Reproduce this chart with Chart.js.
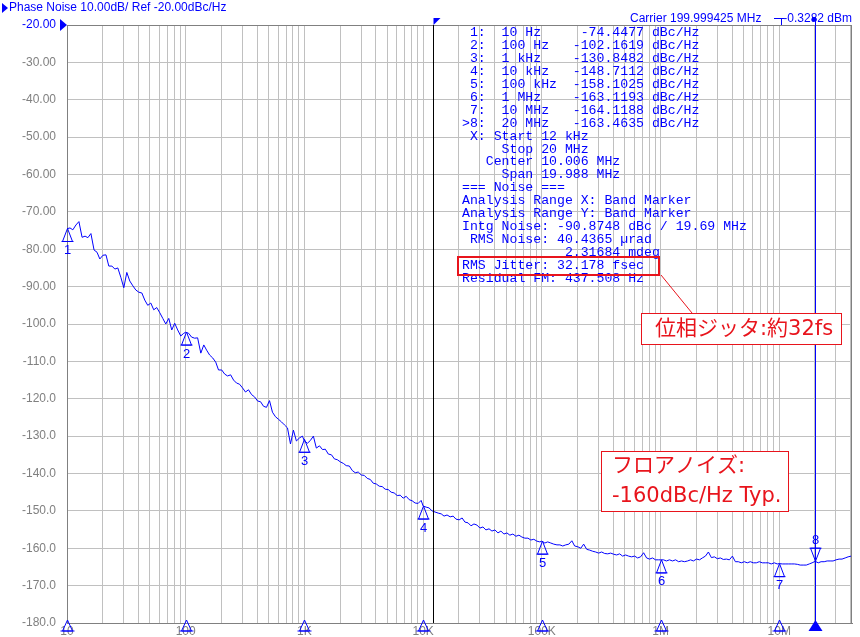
<!DOCTYPE html>
<html>
<head>
<meta charset="utf-8">
<title>Phase Noise</title>
<script src="https://cdn.jsdelivr.net/npm/chart.js@4.4.1/dist/chart.umd.min.js"></script>
<style>
  html, body { margin: 0; padding: 0; background: #fff; }
  #phaseNoiseChart { display: block; }
</style>
</head>
<body>
<canvas id="phaseNoiseChart" width="860" height="637"></canvas>
<script>
// offset frequency of each trace point (Hz)
const freqHz = [
  10, 10.6, 11.2, 11.9, 12.6, 13.4, 14.2, 15, 15.9, 16.9, 17.9, 18.9, 20.1, 21.3, 22.5, 23.9, 25.3, 26.8, 28.4, 30.1,
  31.9, 33.8, 35.9, 38, 40.3, 42.7, 45.2, 47.9, 50.8, 53.8, 57, 60.5, 64.1, 67.9, 72, 76.3, 80.8, 85.6, 90.8, 96.2,
  100, 106, 112, 119, 126, 134, 142, 150, 159, 169, 179, 189, 201, 213, 225, 239, 253, 268, 284, 301,
  319, 338, 359, 380, 403, 427, 452, 479, 508, 538, 570, 605, 641, 679, 720, 763, 808, 856, 908, 962,
  1e3, 1.06e3, 1.12e3, 1.19e3, 1.26e3, 1.34e3, 1.42e3, 1.5e3, 1.59e3, 1.69e3, 1.79e3, 1.89e3, 2.01e3, 2.13e3, 2.25e3, 2.39e3, 2.53e3, 2.68e3, 2.84e3, 3.01e3,
  3.19e3, 3.38e3, 3.59e3, 3.8e3, 4.03e3, 4.27e3, 4.52e3, 4.79e3, 5.08e3, 5.38e3, 5.7e3, 6.05e3, 6.41e3, 6.79e3, 7.2e3, 7.63e3, 8.08e3, 8.56e3, 9.08e3, 9.62e3,
  1e4, 1.06e4, 1.12e4, 1.19e4, 1.26e4, 1.34e4, 1.42e4, 1.5e4, 1.59e4, 1.69e4, 1.79e4, 1.89e4, 2.01e4, 2.13e4, 2.25e4, 2.39e4, 2.53e4, 2.68e4, 2.84e4, 3.01e4,
  3.19e4, 3.38e4, 3.59e4, 3.8e4, 4.03e4, 4.27e4, 4.52e4, 4.79e4, 5.08e4, 5.38e4, 5.7e4, 6.05e4, 6.41e4, 6.79e4, 7.2e4, 7.63e4, 8.08e4, 8.56e4, 9.08e4, 9.62e4,
  1e5, 1.06e5, 1.12e5, 1.19e5, 1.26e5, 1.34e5, 1.42e5, 1.5e5, 1.59e5, 1.69e5, 1.79e5, 1.89e5, 2.01e5, 2.13e5, 2.25e5, 2.39e5, 2.53e5, 2.68e5, 2.84e5, 3.01e5,
  3.19e5, 3.38e5, 3.59e5, 3.8e5, 4.03e5, 4.27e5, 4.52e5, 4.79e5, 5.08e5, 5.38e5, 5.7e5, 6.05e5, 6.41e5, 6.79e5, 7.2e5, 7.63e5, 8.08e5, 8.56e5, 9.08e5, 9.62e5,
  1e6, 1.06e6, 1.12e6, 1.19e6, 1.26e6, 1.34e6, 1.42e6, 1.5e6, 1.59e6, 1.69e6, 1.79e6, 1.89e6, 2.01e6, 2.13e6, 2.25e6, 2.39e6, 2.53e6, 2.68e6, 2.84e6, 3.01e6,
  3.19e6, 3.38e6, 3.59e6, 3.8e6, 4.03e6, 4.27e6, 4.52e6, 4.79e6, 5.08e6, 5.38e6, 5.7e6, 6.05e6, 6.41e6, 6.79e6, 7.2e6, 7.63e6, 8.08e6, 8.56e6, 9.08e6, 9.62e6,
  1e7, 1.06e7, 1.12e7, 1.19e7, 1.26e7, 1.34e7, 1.42e7, 1.5e7, 1.59e7, 1.69e7, 1.79e7, 1.89e7, 2.01e7, 2.13e7, 2.25e7, 2.39e7, 2.53e7, 2.68e7, 2.84e7, 3.01e7,
  3.19e7, 3.38e7, 3.59e7, 3.8e7, 4.03e7
];

// phase noise (dBc/Hz)
const noiseDb = [
  -74.5, -74.3, -74.8, -73.5, -72.6, -76.8, -76.5, -76.9, -75.8, -80.2, -80.8, -82.6, -81.6, -81.5, -84.5, -84.5, -85.3, -85.0, -87.5, -90.3,
  -86.2, -88.5, -89.8, -90.9, -91.5, -91.7, -93.6, -95.0, -94.4, -96.2, -95.6, -97.0, -98.5, -100.0, -98.5, -101.6, -99.8, -101.6, -103.2, -102.5,
  -102.2, -102.5, -103.5, -103.8, -103.7, -107.8, -105.6, -107.0, -108.3, -109.1, -110.2, -112.3, -112.3, -113.4, -113.9, -113.6, -115.0, -115.8, -116.1, -117.1,
  -118.2, -117.6, -118.9, -119.5, -120.6, -120.8, -122.0, -122.3, -120.5, -123.6, -124.8, -125.5, -126.2, -127.0, -127.8, -132.1, -128.4, -131.3, -130.5, -130.0,
  -131.3, -131.9, -131.2, -130.0, -133.2, -132.6, -133.6, -133.5, -134.8, -135.0, -136.1, -136.3, -136.9, -137.3, -137.9, -138.0, -139.2, -139.8, -139.6, -140.4,
  -140.5, -141.3, -141.6, -142.6, -142.8, -143.4, -143.5, -144.2, -144.3, -145.0, -145.2, -145.9, -145.8, -146.6, -146.1, -147.0, -147.3, -147.9, -148.0, -147.2,
  -148.7, -149.0, -149.2, -150.0, -150.3, -150.6, -150.8, -151.4, -151.1, -151.6, -151.4, -152.2, -152.4, -151.9, -153.0, -153.2, -154.0, -153.5, -153.8, -154.6,
  -154.3, -155.1, -154.8, -155.4, -155.1, -155.9, -155.4, -156.2, -155.9, -156.5, -156.2, -156.8, -156.5, -157.0, -157.3, -157.3, -157.8, -157.6, -158.1, -158.3,
  -158.1, -158.6, -158.3, -158.6, -158.9, -159.1, -159.1, -159.4, -159.1, -158.9, -158.0, -159.4, -159.6, -160.0, -158.9, -160.3, -160.5, -160.8, -161.0, -161.3,
  -161.0, -161.4, -161.5, -161.3, -161.6, -161.8, -161.5, -162.1, -161.8, -162.1, -162.3, -162.1, -162.6, -162.3, -161.2, -162.6, -162.9, -162.6, -163.1, -163.1,
  -163.1, -163.1, -163.4, -163.1, -163.4, -163.1, -163.6, -163.4, -163.6, -163.4, -163.1, -163.4, -162.9, -163.1, -162.6, -162.1, -161.0, -162.5, -162.3, -162.8,
  -162.6, -163.0, -162.9, -163.1, -162.1, -163.6, -163.6, -163.9, -163.6, -163.9, -163.6, -163.9, -163.9, -163.6, -163.9, -163.9, -163.9, -164.2, -163.9, -164.2,
  -164.1, -164.2, -164.2, -164.2, -164.2, -164.2, -164.3, -164.5, -164.5, -164.5, -164.2, -163.9, -163.5, -163.9, -163.6, -163.6, -163.4, -163.4, -163.4, -163.1,
  -162.9, -162.9, -162.6, -162.3, -162.1
];

const xTickValues = [10, 100, 1e3, 1e4, 1e5, 1e6, 1e7];
const xTickLabels = ['10', '100', '1K', '10K', '100K', '1M', '10M'];

const markerFreq = [10, 100, 1e3, 1e4, 1e5, 1e6, 1e7, 2e7];
const markerDb = [-74.4477, -102.1619, -130.8482, -148.7112, -158.1025, -163.1193, -164.1188, -163.4635];
const markerText = ['10 Hz', '100 Hz', '1 kHz', '10 kHz', '100 kHz', '1 MHz', '10 MHz', '20 MHz'];

const bandStart = 12e3;
const bandStop = 20e6;

const infoLines = [
  ' X: Start 12 kHz',
  '     Stop 20 MHz',
  '   Center 10.006 MHz',
  '     Span 19.988 MHz',
  '=== Noise ===',
  'Analysis Range X: Band Marker',
  'Analysis Range Y: Band Marker',
  'Intg Noise: -90.8748 dBc / 19.69 MHz',
  ' RMS Noise: 40.4365 µrad',
  '             2.31684 mdeg',
  'RMS Jitter: 32.178 fsec',
  'Residual FM: 437.508 Hz'
];

const BLUE = '#0000ff';
const RED = '#e8141c';

function tri(c, pts, fill) {
  c.beginPath();
  c.moveTo(pts[0], pts[1]);
  c.lineTo(pts[2], pts[3]);
  c.lineTo(pts[4], pts[5]);
  c.closePath();
  if (fill) c.fill(); else c.stroke();
}

function line(c, x1, y1, x2, y2) {
  c.beginPath();
  c.moveTo(x1, y1);
  c.lineTo(x2, y2);
  c.stroke();
}

const overlay = {
  id: 'overlay',
  afterDraw(chart) {
    const c = chart.ctx;
    const a = chart.chartArea;
    const xs = chart.scales.x;
    const ys = chart.scales.y;
    c.save();

    // frame top / right
    c.strokeStyle = '#808080';
    c.lineWidth = 1;
    line(c, a.left, a.top + 0.5, a.right, a.top + 0.5);
    line(c, a.right - 0.5, a.top, a.right - 0.5, a.bottom);

    // band start / stop lines
    const bx = Math.round(xs.getPixelForValue(bandStart)) + 0.5;
    c.strokeStyle = '#000000';
    line(c, bx, a.top, bx, a.bottom);
    c.fillStyle = BLUE;
    tri(c, [bx, a.top - 7, bx + 7, a.top - 7, bx, a.top], true);

    const sx = Math.round(xs.getPixelForValue(bandStop)) + 0.5;
    c.strokeStyle = BLUE;
    line(c, sx, 18, sx, a.bottom);

    // markers on the trace
    c.font = '13px "Liberation Sans"';
    c.textAlign = 'center';
    c.textBaseline = 'middle';
    markerFreq.forEach((f, i) => {
      const px = Math.round(xs.getPixelForValue(f)) + 0.5;
      const py = ys.getPixelForValue(markerDb[i]);
      c.strokeStyle = BLUE;
      c.fillStyle = BLUE;
      if (i === markerFreq.length - 1) {
        tri(c, [px, py, px - 5, py - 13, px + 5, py - 13], false);
        line(c, px - 6, py - 13, px + 6, py - 13);
        c.fillText(String(i + 1), px, py - 21);
        tri(c, [px, a.bottom - 3, px - 7, a.bottom + 8, px + 7, a.bottom + 8], true);
      } else {
        tri(c, [px, py, px - 5, py + 13, px + 5, py + 13], false);
        line(c, px - 6, py + 13, px + 6, py + 13);
        c.fillText(String(i + 1), px, py + 22);
        tri(c, [px, a.bottom - 3, px - 5, a.bottom + 8, px + 5, a.bottom + 8], false);
        line(c, px - 7, a.bottom + 8, px + 7, a.bottom + 8);
      }
    });

    // header texts
    c.fillStyle = BLUE;
    tri(c, [2, 3, 8, 8, 2, 13], true);
    tri(c, [a.left - 7, a.top - 6, a.left, a.top, a.left - 7, a.top + 6], true);
    c.font = '12px "Liberation Sans"';
    c.textAlign = 'left';
    c.fillText('Phase Noise 10.00dB/ Ref -20.00dBc/Hz', 9, 8);
    c.fillText('Carrier 199.999425 MHz', 630, 19);
    c.textAlign = 'right';
    c.fillText('-0.3282 dBm', 852, 19);
    c.strokeStyle = BLUE;
    line(c, 774, 18.5, 784, 18.5);
    line(c, 781.5, 18.5, 781.5, 25);
    c.fillRect(812, 17, 4, 4);

    // marker table + noise analysis
    c.font = '13.2px "Liberation Mono"';
    c.textAlign = 'left';
    const rows = markerFreq.map((f, i) =>
      ((i === markerFreq.length - 1 ? '>' : ' ') + (i + 1) + ':  ' + markerText[i]).padEnd(14) +
      markerDb[i].toFixed(4).padStart(9) + ' dBc/Hz').concat(infoLines);
    rows.forEach((t, i) => c.fillText(t, 462, 33 + i * 12.9));

    // callouts
    c.strokeStyle = RED;
    c.lineWidth = 2;
    c.strokeRect(458, 257, 201, 18);
    c.lineWidth = 1;
    line(c, 661, 275, 692, 313);

    c.fillStyle = '#ffffff';
    c.fillRect(641.5, 313.5, 200, 31);
    c.strokeRect(641.5, 313.5, 200, 31);
    c.fillRect(601.5, 451.5, 187, 60);
    c.strokeRect(601.5, 451.5, 187, 60);

    c.fillStyle = RED;
    c.font = '21px "DejaVu Sans", "Noto Sans CJK JP"';
    c.fillText('位相ジッタ:約32fs', 655, 330);
    c.fillText('フロアノイズ:', 612, 467);
    c.fillText('-160dBc/Hz Typ.', 612, 497);

    c.restore();
  }
};

const ctx = document.getElementById('phaseNoiseChart');

new Chart(ctx, {
  type: 'line',
  data: {
    datasets: [{
      label: 'Phase Noise',
      data: freqHz.map((f, i) => ({ x: f, y: noiseDb[i] })),
      borderColor: BLUE,
      borderWidth: 1,
      pointRadius: 0,
      tension: 0,
      fill: false
    }]
  },
  options: {
    responsive: false,
    animation: false,
    devicePixelRatio: 1,
    layout: { padding: { top: 25, right: 8, left: 0, bottom: 0 } },
    plugins: {
      legend: { display: false },
      tooltip: { enabled: false }
    },
    scales: {
      x: {
        type: 'logarithmic',
        min: 10,
        max: 4.1e7,
        afterBuildTicks: (scale) => {
          const t = [];
          for (let p = 1; p <= 7; p++) {
            for (let m = 1; m <= 9; m++) {
              const v = m * Math.pow(10, p);
              if (v <= 4.1e7) t.push({ value: v });
            }
          }
          scale.ticks = t;
        },
        afterFit: (scale) => { scale.height = 14; },
        grid: { color: '#c0c0c0', drawTicks: false },
        border: { color: '#808080' },
        ticks: {
          autoSkip: false,
          maxRotation: 0,
          padding: 1,
          color: '#808080',
          font: { family: 'Liberation Sans', size: 12 },
          callback: (v) => {
            const k = xTickValues.indexOf(v);
            return k >= 0 ? xTickLabels[k] : '';
          }
        }
      },
      y: {
        min: -180,
        max: -20,
        afterFit: (scale) => {
          scale.width = 67;
          // keep the plot bottom at the axis, not pushed up by label padding
          scale.paddingTop = 0;
          scale.paddingBottom = 0;
        },
        grid: { color: '#c0c0c0', drawTicks: false },
        border: { color: '#808080' },
        ticks: {
          stepSize: 10,
          padding: 11,
          color: (c) => (c.tick && c.tick.value === -20 ? BLUE : '#808080'),
          font: { family: 'Liberation Sans', size: 12 },
          callback: (v) => (Math.abs(v) >= 100 ? v.toFixed(1) : v.toFixed(2))
        }
      }
    }
  },
  plugins: [overlay]
});
</script>
</body>
</html>
